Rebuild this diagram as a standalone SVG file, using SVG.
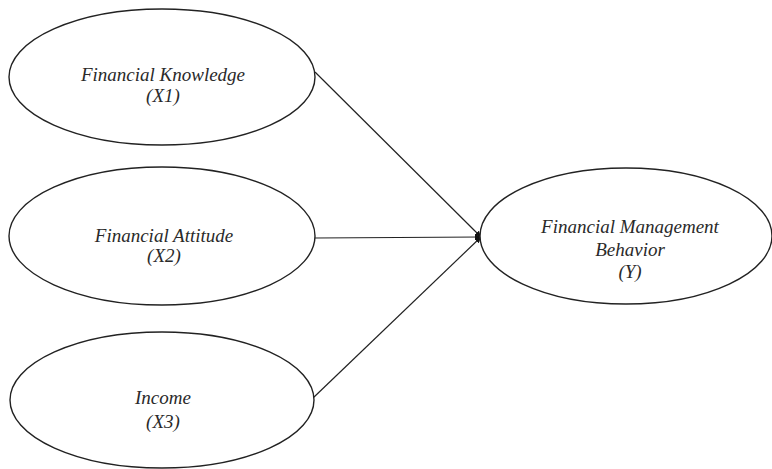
<svg xmlns="http://www.w3.org/2000/svg" width="772" height="469" viewBox="0 0 772 469">
<style>
.node{fill:#fff;stroke:#222;stroke-width:1.4}
.lbl{font-family:"Liberation Serif","Times New Roman",serif;font-style:italic;font-size:19px;fill:#2a2a2a;text-anchor:middle}
.edge{stroke:#222;stroke-width:1.2;fill:none}
</style>
<defs>
<marker id="ah" viewBox="0 0 10 10" refX="10" refY="5" markerWidth="6" markerHeight="6" orient="auto" markerUnits="userSpaceOnUse">
<path d="M0,0 L10,5 L0,10 z" fill="#111"/>
</marker>
</defs>
<rect width="772" height="469" fill="#fff"/>
<g id="edges">
<line class="edge" x1="315" y1="72" x2="481" y2="237" marker-end="url(#ah)"/>
<line class="edge" x1="315" y1="238" x2="481" y2="237" marker-end="url(#ah)"/>
<line class="edge" x1="313" y1="398" x2="481" y2="237" marker-end="url(#ah)"/>
</g>
<g id="x1">
<ellipse class="node" cx="162" cy="77" rx="153" ry="68"/>
<text class="lbl" x="163" y="81">Financial Knowledge</text>
<text class="lbl" x="163" y="102">(X1)</text>
</g>
<g id="x2">
<ellipse class="node" cx="162" cy="236" rx="153" ry="69"/>
<text class="lbl" x="164" y="242">Financial Attitude</text>
<text class="lbl" x="164" y="262">(X2)</text>
</g>
<g id="x3">
<ellipse class="node" cx="162" cy="400" rx="152" ry="68"/>
<text class="lbl" x="163" y="404">Income</text>
<text class="lbl" x="163" y="428">(X3)</text>
</g>
<g id="y">
<ellipse class="node" cx="626" cy="236" rx="146" ry="68"/>
<text class="lbl" x="630" y="233">Financial Management</text>
<text class="lbl" x="630" y="256">Behavior</text>
<text class="lbl" x="630" y="278">(Y)</text>
</g>
</svg>
